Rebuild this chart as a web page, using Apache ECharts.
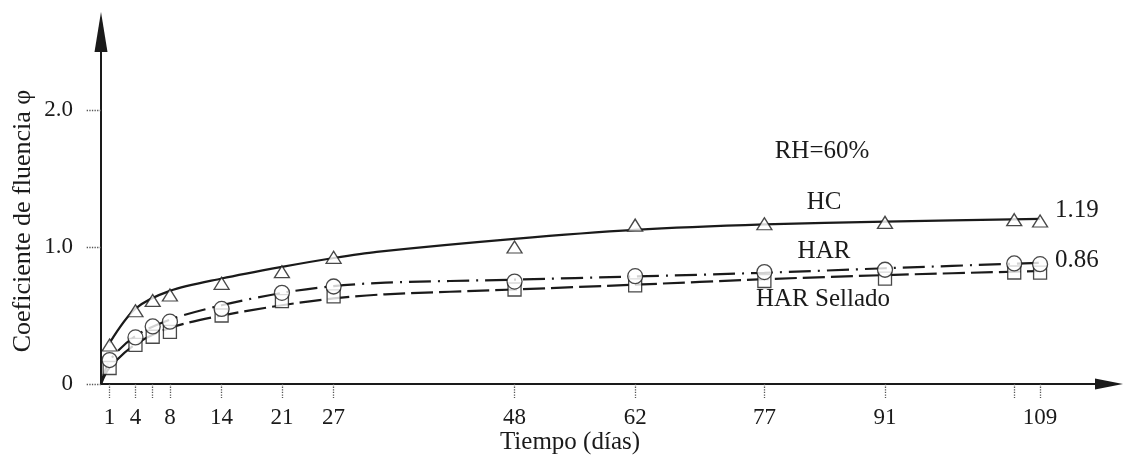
<!DOCTYPE html>
<html><head><meta charset="utf-8">
<script src="https://cdn.jsdelivr.net/npm/echarts@6/dist/echarts.min.js"></script>
<style>html,body{margin:0;padding:0;background:#fff}#c{width:1127px;height:457px}</style>
</head><body><div id="c"></div>
<script>
// measured days (markers)
const markerDays = [1, 4, 6, 8, 14, 21, 27, 48, 62, 77, 91, 106, 109];
const hcPoints = [0.285, 0.535, 0.61, 0.65, 0.735, 0.82, 0.925, 1.00, 1.16, 1.17, 1.18, 1.20, 1.19];
const harPoints = [0.175, 0.34, 0.42, 0.455, 0.548, 0.666, 0.712, 0.748, 0.787, 0.817, 0.834, 0.88, 0.875];
const harSelladoPoints = [0.117, 0.285, 0.345, 0.38, 0.50, 0.605, 0.64, 0.69, 0.72, 0.752, 0.769, 0.814, 0.813];

// fitted curves
const hcCurveDays = [1, 4, 8, 14, 21, 27, 32, 48, 62, 77, 91, 109];
const hcCurve = [0.30, 0.55, 0.68, 0.77, 0.855, 0.92, 0.965, 1.06, 1.125, 1.165, 1.185, 1.205];
const harCurveDays = [0, 1, 4, 8, 14, 21, 27, 33, 48, 62, 77, 91, 109];
const harCurve = [0, 0.17, 0.35, 0.47, 0.575, 0.665, 0.715, 0.74, 0.762, 0.785, 0.812, 0.845, 0.885];
const selladoCurveDays = [0, 1, 4, 8, 14, 21, 27, 33, 48, 62, 77, 91, 109];
const selladoCurve = [0, 0.12, 0.29, 0.41, 0.50, 0.575, 0.625, 0.655, 0.69, 0.725, 0.765, 0.795, 0.825];

// axis ticks
const xTickValues = [1, 4, 6, 8, 14, 21, 27, 48, 62, 77, 91, 106, 109];
const xTickLabels = [1, 4, 8, 14, 21, 27, 48, 62, 77, 91, 109];
const yTickValues = [0, 1, 2];

const FONT = '"Liberation Serif", "Times New Roman", serif';
const INK = '#1a1a1a';

const zip = (xs, ys) => xs.map((x, i) => [x, ys[i]]);

const chart = echarts.init(document.getElementById('c'), null, {renderer: 'canvas'});
chart.setOption({
  animation: false,
  backgroundColor: '#ffffff',
  grid: {left: 101, right: 18, top: 32, bottom: 73, containLabel: false, outerBoundsMode: 'none'},
  xAxis: {
    type: 'value', min: 0, max: 117,
    axisLine: {show: true, symbol: ['none', 'triangle'], symbolSize: [11, 28],
      lineStyle: {color: INK, width: 2}},
    axisTick: {show: true, customValues: xTickValues, length: 14, inside: false,
      lineStyle: {color: '#555', width: 1.3, type: 'dotted'}},
    axisLabel: {customValues: xTickLabels, margin: 22, color: INK, fontFamily: FONT, fontSize: 23},
    splitLine: {show: false}
  },
  yAxis: {
    type: 'value', min: 0, max: 2.57,
    axisLine: {show: true, symbol: ['none', 'triangle'], symbolSize: [13, 40],
      lineStyle: {color: INK, width: 2}},
    axisTick: {show: true, customValues: yTickValues, length: 15, inside: false,
      lineStyle: {color: '#555', width: 1.3, type: 'dotted'}},
    axisLabel: {customValues: yTickValues, margin: 28, color: INK, fontFamily: FONT, fontSize: 23,
      formatter: v => (v === 0 ? '0' : v.toFixed(1))},
    splitLine: {show: false}
  },
  graphic: [
    {type: 'text', x: 23, y: 221, rotation: Math.PI / 2,
      style: {text: 'Coeficiente de fluencia φ', font: '26px ' + FONT, fill: INK, align: 'center', verticalAlign: 'middle'}},
    {type: 'text', x: 570, y: 442,
      style: {text: 'Tiempo (días)', font: '25px ' + FONT, fill: INK, align: 'center', verticalAlign: 'middle'}},
    {type: 'text', x: 822, y: 151,
      style: {text: 'RH=60%', font: '25px ' + FONT, fill: INK, align: 'center', verticalAlign: 'middle'}},
    {type: 'text', x: 824, y: 202,
      style: {text: 'HC', font: '25px ' + FONT, fill: INK, align: 'center', verticalAlign: 'middle'}},
    {type: 'text', x: 1055, y: 210,
      style: {text: '1.19', font: '25px ' + FONT, fill: INK, align: 'left', verticalAlign: 'middle'}},
    {type: 'text', x: 824, y: 251,
      style: {text: 'HAR', font: '25px ' + FONT, fill: INK, align: 'center', verticalAlign: 'middle'}},
    {type: 'text', x: 1055, y: 260,
      style: {text: '0.86', font: '25px ' + FONT, fill: INK, align: 'left', verticalAlign: 'middle'}},
    {type: 'text', x: 823, y: 299,
      style: {text: 'HAR Sellado', font: '25px ' + FONT, fill: INK, align: 'center', verticalAlign: 'middle'}}
  ],
  series: [
    {name: 'HC curve', type: 'line', data: zip(hcCurveDays, hcCurve), smooth: 0.3,
      showSymbol: false, lineStyle: {color: INK, width: 2.2}, z: 2},
    {name: 'HAR curve', type: 'line', data: zip(harCurveDays, harCurve), smooth: 0.3,
      showSymbol: false, lineStyle: {color: INK, width: 2.2, type: [22, 7, 2, 7]}, z: 2},
    {name: 'HAR Sellado curve', type: 'line', data: zip(selladoCurveDays, selladoCurve), smooth: 0.3,
      showSymbol: false, lineStyle: {color: INK, width: 2.2, type: [22, 6]}, z: 2},
    {name: 'HAR Sellado', type: 'scatter', data: zip(markerDays, harSelladoPoints), symbol: 'rect', symbolSize: 13,
      itemStyle: {color: '#fff', borderColor: INK, borderWidth: 1.3}, z: 3},
    {name: 'HAR', type: 'scatter', data: zip(markerDays, harPoints), symbol: 'circle', symbolSize: 15,
      itemStyle: {color: '#fff', borderColor: INK, borderWidth: 1.3}, z: 4},
    {name: 'HC', type: 'scatter', data: zip(markerDays, hcPoints), symbol: 'triangle', symbolSize: [15, 12],
      itemStyle: {color: '#fff', borderColor: INK, borderWidth: 1.3}, z: 5}
  ]
});
</script>
</body></html>
